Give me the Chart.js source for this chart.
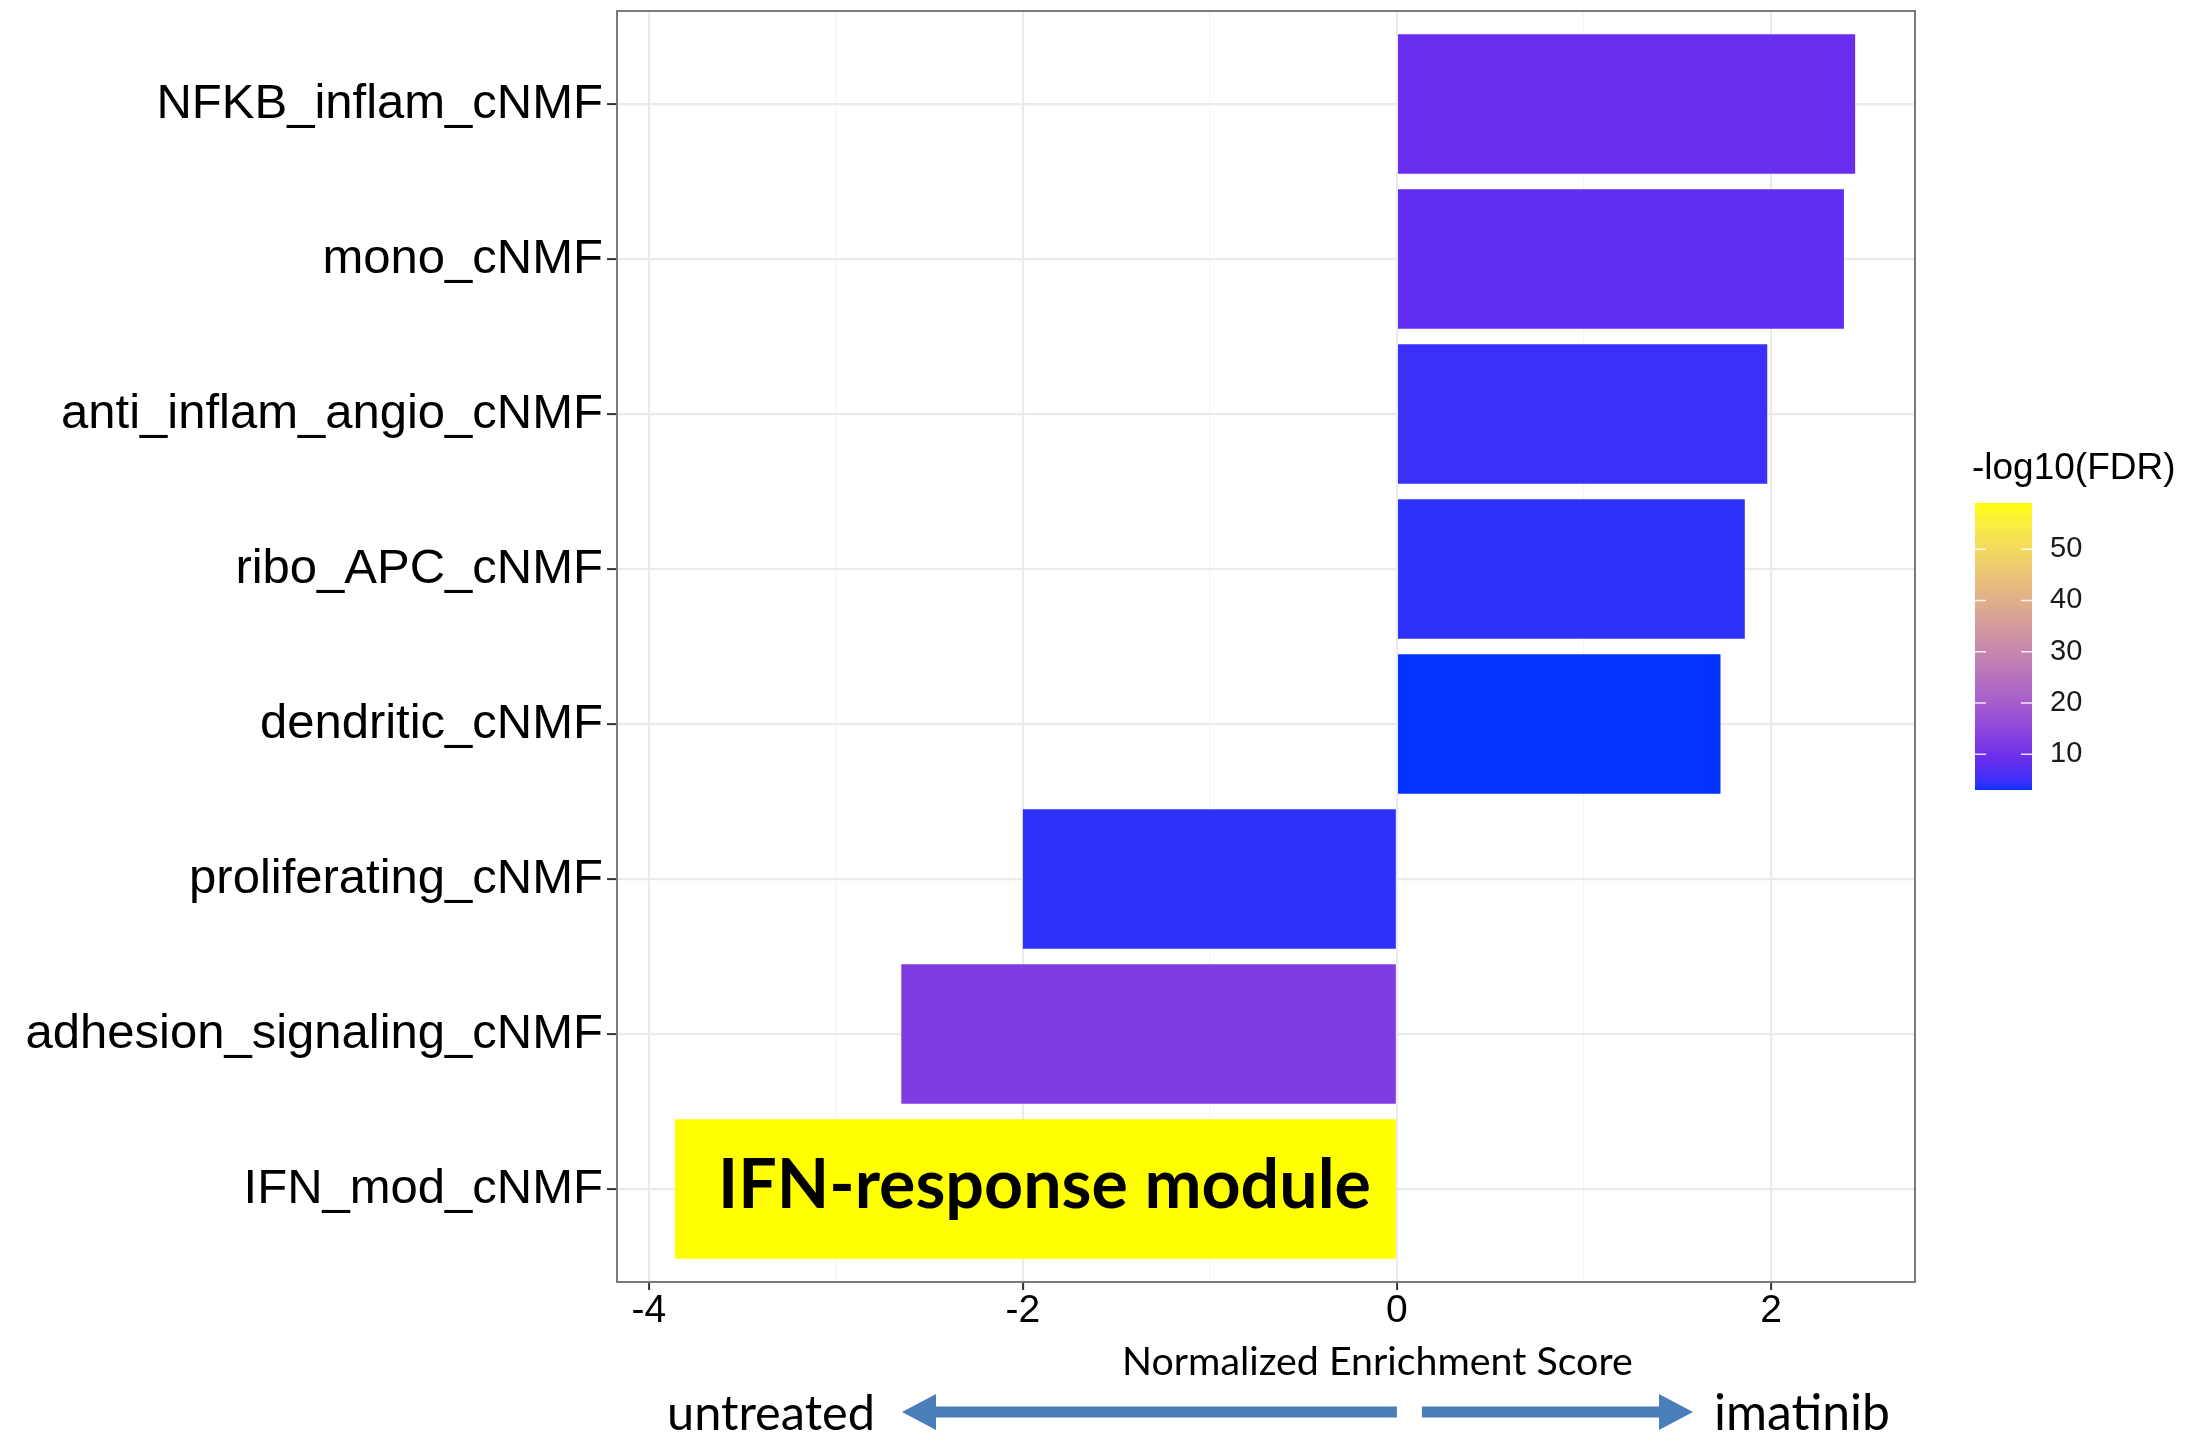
<!DOCTYPE html>
<html>
<head>
<meta charset="utf-8">
<script src="https://cdn.jsdelivr.net/npm/chart.js@4.4.1/dist/chart.umd.min.js"></script>
<style>
  html, body { margin: 0; padding: 0; background: #fff; }
  canvas { display: block; }
</style>
</head>
<body>
<canvas id="nes-chart" width="2209" height="1440"></canvas>
<script>
(function () {
    "use strict";

    // Data
    const modules = [
        "NFKB_inflam_cNMF",
        "mono_cNMF",
        "anti_inflam_angio_cNMF",
        "ribo_APC_cNMF",
        "dendritic_cNMF",
        "proliferating_cNMF",
        "adhesion_signaling_cNMF",
        "IFN_mod_cNMF"
    ];
    const nesValues = [2.45, 2.39, 1.98, 1.86, 1.73, -2.0, -2.65, -3.86];
    const fdrValues = [8.9, 8.0, 4.7, 4.1, 3.0, 4.1, 12.5, 59.0];
    const xTickLabels = [-4, -2, 0, 2];
    const fdrLimits = [3, 59];
    const fdrTicks = [10, 20, 30, 40, 50];

    // Colour scale: blue -> yellow in Lab (ggplot scale_fill_gradient)
    const lowRgb = [0, 0, 255];
    const highRgb = [255, 255, 0];

    function toLin(c) { c /= 255; return c <= 0.04045 ? c / 12.92 : Math.pow((c + 0.055) / 1.055, 2.4); }
    function fromLin(c) {
        c = Math.max(0, Math.min(1, c));
        c = c <= 0.0031308 ? 12.92 * c : 1.055 * Math.pow(c, 1 / 2.4) - 0.055;
        return Math.round(c * 255);
    }
    const WX = 0.95047, WY = 1.0, WZ = 1.08883;
    function f(t) { return t > 0.008856 ? Math.cbrt(t) : 7.787 * t + 16 / 116; }
    function fi(t) { return t * t * t > 0.008856 ? t * t * t : (t - 16 / 116) / 7.787; }
    function rgbToLab(rgb) {
        const r = toLin(rgb[0]), g = toLin(rgb[1]), b = toLin(rgb[2]);
        const x = (r * 0.4124 + g * 0.3576 + b * 0.1805) / WX;
        const y = (r * 0.2126 + g * 0.7152 + b * 0.0722) / WY;
        const z = (r * 0.0193 + g * 0.1192 + b * 0.9505) / WZ;
        return [116 * f(y) - 16, 500 * (f(x) - f(y)), 200 * (f(y) - f(z))];
    }
    function labToLinear(lab) {
        const fy = (lab[0] + 16) / 116, fx = fy + lab[1] / 500, fz = fy - lab[2] / 200;
        const x = fi(fx) * WX, y = fi(fy) * WY, z = fi(fz) * WZ;
        return [
            x * 3.2406 + y * -1.5372 + z * -0.4986,
            x * -0.9689 + y * 1.8758 + z * 0.0415,
            x * 0.0557 + y * -0.2040 + z * 1.0570
        ];
    }
    const lowLab = rgbToLab(lowRgb), highLab = rgbToLab(highRgb);
    function fdrColour(v) {
        let t = (v - fdrLimits[0]) / (fdrLimits[1] - fdrLimits[0]);
        t = Math.max(0, Math.min(1, t));
        const lin = labToLinear(lowLab.map((c, i) => c + (highLab[i] - c) * t));
        // the figure's deep blues are lifted a little in green (screen capture)
        lin[1] += 0.0331 * Math.max(0, 1 - t / 0.12);
        lin[0] += 0.0012 * Math.max(0, 1 - t / 0.12);
        return "rgb(" + lin.map(fromLin).join(",") + ")";
    }

    // Panel geometry (ggplot-like)
    const PANEL = { left: 617, right: 1915, top: 11, bottom: 1282 };
    const GRID = "#EBEBEB";

    function fitFont(ctx, text, weight, family, width) {
        ctx.font = weight + " 100px " + family;
        const size = 100 * width / ctx.measureText(text).width;
        ctx.font = weight + " " + size.toFixed(2) + "px " + family;
        return size;
    }

    function arrow(ctx, xFrom, xTip, y, shaft, headHalf, headLen) {
        const dir = xTip < xFrom ? -1 : 1;
        const base = xTip - dir * headLen;
        ctx.beginPath();
        ctx.moveTo(xFrom, y - shaft / 2);
        ctx.lineTo(base, y - shaft / 2);
        ctx.lineTo(base, y - headHalf);
        ctx.lineTo(xTip, y);
        ctx.lineTo(base, y + headHalf);
        ctx.lineTo(base, y + shaft / 2);
        ctx.lineTo(xFrom, y + shaft / 2);
        ctx.closePath();
        ctx.fill();
    }

    const annotations = {
        id: "annotations",
        afterDraw(chart) {
            const ctx = chart.ctx;
            const area = chart.chartArea;
            const xs = chart.scales.x;
            ctx.save();

            // panel border
            ctx.strokeStyle = "#7a7a7a";
            ctx.lineWidth = 2;
            ctx.strokeRect(area.left, area.top, area.right - area.left, area.bottom - area.top);

            // label on the IFN bar
            ctx.fillStyle = "#000";
            ctx.textAlign = "left";
            ctx.textBaseline = "alphabetic";
            fitFont(ctx, "IFN-response module", "bold", "Lato", 653);
            ctx.fillText("IFN-response module", 718, 1208);

            // x axis title
            fitFont(ctx, "Normalized Enrichment Score", "normal", "Lato", 511);
            ctx.fillText("Normalized Enrichment Score", 1122, 1375);

            // direction arrows
            const zero = xs.getPixelForValue(0);
            ctx.fillStyle = "#4A7EBB";
            arrow(ctx, zero, 902, 1412, 11, 18, 34);
            arrow(ctx, zero + 25, 1693, 1412, 11, 18, 34);

            ctx.fillStyle = "#000";
            fitFont(ctx, "untreated", "normal", "Lato", 208);
            ctx.fillText("untreated", 667, 1430);
            fitFont(ctx, "imatinib", "normal", "Lato", 176);
            ctx.fillText("imatinib", 1714, 1430);

            // colour bar legend
            const bar = { left: 1975, right: 2032, top: 503, bottom: 790 };
            const fy = v => bar.bottom - (v - fdrLimits[0]) / (fdrLimits[1] - fdrLimits[0]) * (bar.bottom - bar.top);
            const grad = ctx.createLinearGradient(0, bar.bottom, 0, bar.top);
            for (let i = 0; i <= 60; i++) {
                const v = fdrLimits[0] + (fdrLimits[1] - fdrLimits[0]) * i / 60;
                grad.addColorStop(i / 60, fdrColour(v));
            }
            ctx.fillStyle = grad;
            ctx.fillRect(bar.left, bar.top, bar.right - bar.left, bar.bottom - bar.top);

            ctx.strokeStyle = "rgba(255,255,255,0.85)";
            ctx.lineWidth = 1.5;
            ctx.font = "29px 'Liberation Sans', Arial, sans-serif";
            ctx.fillStyle = "#1a1a1a";
            ctx.textBaseline = "middle";
            fdrTicks.forEach(v => {
                const y = fy(v);
                ctx.beginPath();
                ctx.moveTo(bar.left, y); ctx.lineTo(bar.left + 11, y);
                ctx.moveTo(bar.right - 11, y); ctx.lineTo(bar.right, y);
                ctx.stroke();
                ctx.fillText(String(v), 2050, y);
            });
            ctx.font = "37px 'Liberation Sans', Arial, sans-serif";
            ctx.fillStyle = "#000";
            ctx.fillText("-log10(FDR)", 1972, 469);

            ctx.restore();
        }
    };

    const ctxNes = document.getElementById("nes-chart").getContext("2d");
    const nesChart = new Chart(ctxNes, {
        type: "bar",
        data: {
            datasets: [{
                data: nesValues.map((v, i) => ({ x: v, y: i })),
                backgroundColor: fdrValues.map(fdrColour),
                borderWidth: 0,
                barPercentage: 0.9,
                categoryPercentage: 1.0
            }]
        },
        options: {
            indexAxis: "y",
            responsive: false,
            animation: false,
            devicePixelRatio: 1,
            layout: { padding: { left: 0, right: 2209 - PANEL.right, top: PANEL.top, bottom: 0 } },
            plugins: {
                legend: { display: false },
                tooltip: { enabled: false }
            },
            scales: {
                x: {
                    type: "linear",
                    min: -4.17,
                    max: 2.77,
                    afterFit: s => {
                        s.height = 1440 - PANEL.bottom;
                        s.paddingLeft = 0;
                        s.paddingRight = 0;
                    },
                    ticks: {
                        stepSize: 1,
                        includeBounds: false,
                        autoSkip: false,
                        maxRotation: 0,
                        padding: 2,
                        color: "#000",
                        font: { family: "'Liberation Sans', Arial, sans-serif", size: 39, lineHeight: 1 },
                        callback: v => (xTickLabels.includes(v) ? String(v) : "")
                    },
                    grid: {
                        color: c => (xTickLabels.includes(c.tick.value) ? GRID : "#F4F4F4"),
                        lineWidth: c => (xTickLabels.includes(c.tick.value) ? 2.2 : 1.2),
                        tickLength: 8,
                        tickColor: c => (xTickLabels.includes(c.tick.value) ? "#333" : "rgba(0,0,0,0)"),
                        tickWidth: 2
                    },
                    border: { display: false }
                },
                y: {
                    type: "linear",
                    reverse: true,
                    offset: false,
                    min: -0.6,
                    max: modules.length - 1 + 0.6,
                    afterFit: s => {
                        s.width = PANEL.left;
                        s.paddingTop = 0;
                        s.paddingBottom = 0;
                    },
                    ticks: {
                        stepSize: 1,
                        includeBounds: false,
                        autoSkip: false,
                        padding: 4,
                        color: "#000",
                        font: { family: "'Liberation Sans', Arial, sans-serif", size: 49 },
                        callback: v => modules[v] || ""
                    },
                    grid: {
                        offset: false,
                        color: GRID,
                        lineWidth: 2.2,
                        tickLength: 10,
                        tickColor: "#333",
                        tickWidth: 2
                    },
                    border: { display: false }
                }
            }
        },
        plugins: [annotations]
    });
})();
</script>
</body>
</html>
